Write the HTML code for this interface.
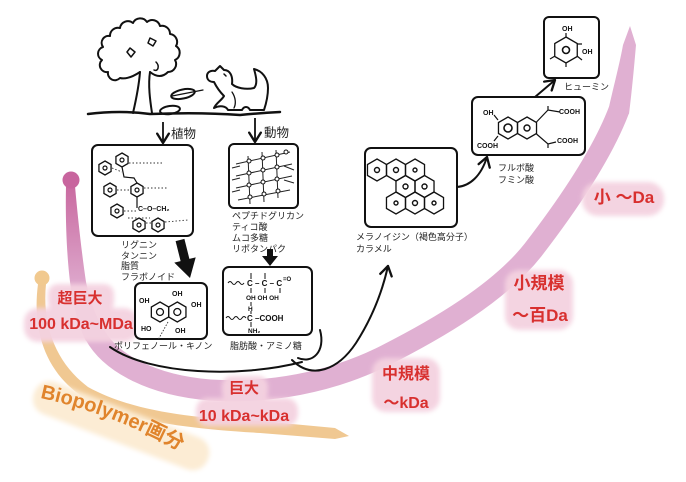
<!DOCTYPE html>
<html>
<head>
<meta charset="utf-8">
<style>
html,body{margin:0;padding:0;background:#fff;}
svg{display:block;}
.jp{font-family:"Liberation Sans","Noto Sans CJK JP",sans-serif;fill:#222;}
.red{font-family:"Liberation Sans","Noto Sans CJK JP",sans-serif;fill:#d8302f;font-weight:bold;}
.chem{font-family:"Liberation Sans",sans-serif;fill:#111;font-weight:bold;}
</style>
</head>
<body>
<svg width="686" height="482" viewBox="0 0 686 482" xmlns="http://www.w3.org/2000/svg">
<defs>
  <filter id="bl" x="-30%" y="-40%" width="160%" height="180%"><feGaussianBlur stdDeviation="2.5"/></filter>
  <marker id="ah" markerUnits="userSpaceOnUse" markerWidth="14" markerHeight="14" viewBox="0 0 12 12" refX="10" refY="6" orient="auto">
    <path d="M2,1 L10,6 L2,11" fill="none" stroke="#111" stroke-width="2" stroke-linecap="round" stroke-linejoin="round"/>
  </marker>
  <polygon id="hx" points="0,-10 8.66,-5 8.66,5 0,10 -8.66,5 -8.66,-5" fill="none" stroke="#111" stroke-width="1.3" vector-effect="non-scaling-stroke"/>
  <linearGradient id="stemg" gradientUnits="userSpaceOnUse" x1="0" y1="185" x2="0" y2="300">
    <stop offset="0" stop-color="#c96aa0"/>
    <stop offset="1" stop-color="#e0b0d2"/>
  </linearGradient>
</defs>

<!-- ORANGE BAND -->
<path d="M38,284 C32,330 45,370 80,395 C120,420 180,428 260,433 L335,439 L349,436 L335,428 L260,421 C185,418 130,410 88,387 C55,362 42,325 46,284 Z" fill="#f0c892"/>
<circle cx="42" cy="278" r="7.5" fill="#f1c98f"/>

<!-- PINK BAND -->
<path d="M66,186 C65,230 68,280 74,305 C78,322 82,334 86,341 L104,330 C96,318 90,300 86,282 C82,255 78,220 75,186 Z" fill="url(#stemg)"/>
<path d="M95,335 C110,362 150,385 210,390 C270,394 330,382 380,358 C440,328 500,292 533,250 C560,215 600,160 619,110" fill="none" stroke="#e0b0d2" stroke-width="21"/>
<path d="M609,107 C614,85 620,62 623,45 L630,26 L636,45 C634,68 632,90 629,114 Z" fill="#e0b0d2"/>
<circle cx="71" cy="180" r="8.5" fill="#c8659e"/>

<!-- Biopolymer label -->
<rect x="-8" y="-22" width="186" height="34" rx="16" transform="translate(40,400) rotate(21)" fill="#fcecd4" filter="url(#bl)"/>
<path id="bp" d="M40,398 Q120,415 200,462" fill="none"/>
<text font-family="Liberation Sans, Noto Sans CJK JP, sans-serif" font-weight="bold" font-size="20" fill="#e0842c"><textPath href="#bp">Biopolymer画分</textPath></text>

<!-- BLOBS -->
<g fill="#f4d2e0" opacity="0.95" filter="url(#bl)">
  <rect x="48" y="284" width="66" height="28" rx="10"/>
  <rect x="24" y="308" width="114" height="34" rx="14"/>
  <rect x="222" y="376" width="46" height="26" rx="10"/>
  <rect x="196" y="398" width="102" height="28" rx="12"/>
  <rect x="372" y="358" width="68" height="54" rx="14"/>
  <rect x="505" y="270" width="68" height="60" rx="14"/>
  <rect x="582" y="182" width="82" height="34" rx="16"/>
</g>

<!-- RED LABELS -->
<g class="red" text-anchor="middle" font-size="16">
  <text x="80" y="303" font-size="15">超巨大</text>
  <text x="81" y="329">100 kDa~MDa</text>
  <text x="244" y="393" font-size="15">巨大</text>
  <text x="244" y="421">10 kDa~kDa</text>
  <text x="406" y="379">中規模</text>
  <text x="406" y="408">〜kDa</text>
  <text x="539" y="289" font-size="17">小規模</text>
  <text x="540" y="321" font-size="17">〜百Da</text>
  <text x="624" y="203" font-size="17">小 〜Da</text>
</g>

<!-- TREE -->
<g fill="none" stroke="#111" stroke-width="2" stroke-linecap="round" stroke-linejoin="round">
  <path d="M140,72 Q128,80 120,78 A7,7 0 0 1 108,72 A7,7 0 0 1 102,60 A7,7 0 0 1 103,47 A7,7 0 0 1 110,36 A8,8 0 0 1 120,28 A8,8 0 0 1 133,23 A8,8 0 0 1 147,22 A8,8 0 0 1 160,26 A8,8 0 0 1 170,34 A8,8 0 0 1 176,46 A8,8 0 0 1 175,60 A8,8 0 0 1 168,72 Q160,80 150,72" fill="#fff"/>
  <path d="M133,113 C136,100 139,85 140,72"/>
  <path d="M152,113 C150,100 148,85 150,72"/>
  <path d="M156,62 C160,66 158,72 154,70" stroke-width="1.5"/>
  <path d="M130,48 L135,52 L131,57 L127,52 Z" stroke-width="1.5"/>
  <path d="M150,38 L156,41 L153,46 L148,43 Z" stroke-width="1.5"/>
  <!-- leaves -->
  <ellipse cx="183" cy="94" rx="12" ry="4.5" transform="rotate(-12 183 94)" fill="#fff"/>
  <path d="M172,96 L203,90" stroke-width="1.2"/>
  <ellipse cx="170" cy="110" rx="10" ry="4" transform="rotate(-8 170 110)" fill="#fff"/>
  <!-- dog -->
  <path d="M207,76 C207,72 211,70 215,71 L220,66 L224,70 C230,70 233,76 232,84 C236,88 246,90 254,88 C258,84 256,76 254,69 C262,71 268,78 268,88 C268,96 266,104 264,110 L250,110 C248,106 244,106 242,110 L228,110 C226,106 220,105 214,108 C216,103 222,100 224,96 C220,92 216,86 214,82 C210,82 207,80 207,76 Z" fill="#fff"/>
  <path d="M224,74 L226,76" stroke-width="1.5"/>
  <path d="M232,92 C236,98 236,104 234,108" stroke-width="1.3"/>
  <!-- ground -->
  <path d="M88,114 Q120,110 150,114 Q200,112 240,115 Q260,113 280,112" stroke-width="2.5"/>
</g>

<!-- down arrows from ground -->
<g fill="none" stroke="#111" stroke-width="1.8">
  <path d="M163,122 L163,143" marker-end="url(#ah)"/>
  <path d="M255,118 L255,142" marker-end="url(#ah)"/>
</g>
<text class="jp" x="171" y="138" font-size="12.5">植物</text>
<text class="jp" x="264" y="137" font-size="12.5">動物</text>

<!-- BOXES -->
<g fill="#fff" stroke="#111" stroke-width="2">
  <rect x="92" y="145" width="101" height="91" rx="6"/>
  <rect x="229" y="144" width="69" height="64" rx="5"/>
  <rect x="135" y="283" width="72" height="56" rx="6"/>
  <rect x="223" y="267" width="89" height="68" rx="6"/>
  <rect x="365" y="148" width="92" height="79" rx="6"/>
  <rect x="472" y="97" width="113" height="58" rx="6"/>
  <rect x="544" y="17" width="55" height="61" rx="5"/>
</g>

<!-- Lignin content -->
<g>
  <use href="#hx" transform="translate(122,160) scale(0.7)"/>
  <use href="#hx" transform="translate(105,168) scale(0.7)"/>
  <use href="#hx" transform="translate(110,190) scale(0.7)"/>
  <use href="#hx" transform="translate(137,190) scale(0.7)"/>
  <use href="#hx" transform="translate(117,211) scale(0.7)"/>
  <use href="#hx" transform="translate(139,225) scale(0.7)"/>
  <use href="#hx" transform="translate(158,225) scale(0.7)"/>
  <g fill="none" stroke="#111" stroke-width="1.2">
    <circle cx="122" cy="160" r="2"/><circle cx="105" cy="168" r="2"/><circle cx="110" cy="190" r="2"/>
    <circle cx="137" cy="190" r="2"/><circle cx="117" cy="211" r="2"/><circle cx="139" cy="225" r="2"/><circle cx="158" cy="225" r="2"/>
    <path d="M122,167 L124,177 L134,178 L137,183"/>
    <path d="M137,197 L137,208"/>
  </g>
  <g fill="none" stroke="#333" stroke-width="0.9" stroke-dasharray="1.5,2">
    <path d="M129,163 L162,163"/><path d="M112,168 L122,172"/>
    <path d="M117,190 L130,190"/><path d="M144,188 L168,188"/>
    <path d="M124,211 L136,211"/><path d="M146,223 L152,223"/>
    <path d="M165,222 L188,220"/><path d="M128,218 L150,218"/>
  </g>
  <text class="chem" x="138" y="211" font-size="7">C–O–CH₂</text>
</g>

<!-- Animal (peptidoglycan) content -->
<g fill="none" stroke="#222" stroke-width="1">
  <path d="M236,164 L290,152"/><path d="M236,176 L292,164"/><path d="M236,188 L292,176"/><path d="M238,200 L290,190"/>
  <path d="M248,156 L250,204"/><path d="M262,152 L264,202"/><path d="M276,150 L278,198"/>
  <path d="M232,168 L240,166"/><path d="M232,180 L240,178"/><path d="M232,192 L240,190"/>
  <path d="M284,166 L294,170"/><path d="M284,180 L294,183"/>
  <g fill="#fff" stroke="#111">
    <circle cx="249" cy="161" r="2"/><circle cx="263" cy="158" r="2"/><circle cx="277" cy="155" r="2"/>
    <circle cx="249" cy="173" r="2"/><circle cx="263" cy="170" r="2"/><circle cx="277" cy="167" r="2"/>
    <circle cx="249" cy="185" r="2"/><circle cx="263" cy="182" r="2"/><circle cx="277" cy="179" r="2"/>
    <circle cx="250" cy="197" r="2"/><circle cx="264" cy="194" r="2"/><circle cx="278" cy="191" r="2"/>
    <circle cx="286" cy="152" r="2"/>
  </g>
</g>

<!-- Lignin labels -->
<g class="jp" font-size="9">
  <text x="121" y="248">リグニン</text>
  <text x="121" y="259">タンニン</text>
  <text x="121" y="269">脂質</text>
  <text x="121" y="280">フラボノイド</text>
  <text x="232" y="219">ペプチドグリカン</text>
  <text x="232" y="230">ティコ酸</text>
  <text x="232" y="241">ムコ多糖</text>
  <text x="232" y="252">リポタンパク</text>
</g>

<!-- Fat arrows -->
<polygon points="175.6,241.1 184.4,238.9 189.4,258.9 195.7,257.4 190,278 174.3,262.6 180.6,261.1" fill="#111"/>
<polygon points="267,249 273,249 273,256 278,256 270,266 262,256 267,256" fill="#111"/>

<!-- Polyphenol content -->
<g>
  <use href="#hx" transform="translate(160,312)"/>
  <use href="#hx" transform="translate(177.3,312)"/>
  <circle cx="160" cy="312" r="3.5" fill="none" stroke="#111" stroke-width="1.3"/>
  <circle cx="177.3" cy="312" r="3.5" fill="none" stroke="#111" stroke-width="1.3"/>
  <path d="M168,322 L158,340" stroke="#333" stroke-width="0.9" stroke-dasharray="1.5,1.5"/>
  <g class="chem" font-size="7">
    <text x="139" y="303">OH</text>
    <text x="172" y="296">OH</text>
    <text x="191" y="307">OH</text>
    <text x="141" y="331">HO</text>
    <text x="175" y="333">OH</text>
  </g>
</g>

<!-- Fatty acid content -->
<g fill="none" stroke="#111" stroke-width="1">
  <path d="M228,283 q2,-3 4,0 t4,0 t4,0 t4,0"/>
  <path d="M226,318 q2,-3 4,0 t4,0 t4,0 t4,0 t4,0"/>
  <path d="M251,273 L251,279 M265,273 L265,279 M251,288 L251,293 M265,288 L265,293 M280,288 L280,293 M251,302 L251,306 M251,311 L251,314 M251,322 L251,327"/>
</g>
<g class="chem" font-size="8">
  <text x="247" y="286">C – C – C</text>
  <text x="283" y="281" font-size="6">=O</text>
  <text x="246" y="300" font-size="6.5">OH  OH   OH</text>
  <text x="248" y="311" font-size="6.5">H</text>
  <text x="247" y="321">C –COOH</text>
  <text x="248" y="333" font-size="6.5">NH₂</text>
</g>

<!-- Polyphenol/fatty labels -->
<g class="jp" font-size="9">
  <text x="114" y="349">ポリフェノール・キノン</text>
  <text x="230" y="349">脂肪酸・アミノ糖</text>
</g>

<!-- Melanoidin content -->
<g>
  <use href="#hx" transform="translate(377,170) scale(1.1)"/>
  <use href="#hx" transform="translate(396,170) scale(1.1)"/>
  <use href="#hx" transform="translate(415,170) scale(1.1)"/>
  <use href="#hx" transform="translate(405.5,186.5) scale(1.1)"/>
  <use href="#hx" transform="translate(424.5,186.5) scale(1.1)"/>
  <use href="#hx" transform="translate(396,203) scale(1.1)"/>
  <use href="#hx" transform="translate(415,203) scale(1.1)"/>
  <use href="#hx" transform="translate(434,203) scale(1.1)"/>
  <g fill="none" stroke="#111" stroke-width="1.4">
    <circle cx="377" cy="170" r="2.5"/><circle cx="396" cy="170" r="2.5"/><circle cx="415" cy="170" r="2"/>
    <circle cx="405.5" cy="186.5" r="2.5"/><circle cx="424.5" cy="186.5" r="2.5"/>
    <circle cx="396" cy="203" r="2"/><circle cx="415" cy="203" r="2.5"/><circle cx="434" cy="203" r="2"/>
  </g>
</g>
<g class="jp" font-size="9">
  <text x="356" y="240">メラノイジン（褐色高分子）</text>
  <text x="356" y="252">カラメル</text>
</g>

<!-- Fulvic content -->
<g>
  <use href="#hx" transform="translate(508,128) scale(1.1)"/>
  <use href="#hx" transform="translate(527,128) scale(1.1)"/>
  <circle cx="508" cy="128" r="4" fill="none" stroke="#111" stroke-width="1.6"/>
  <circle cx="527" cy="128" r="3" fill="none" stroke="#111" stroke-width="1.4"/>
  <path d="M536.5,122 L548,110 L560,112 M536.5,134 L548,144 L556,142 M548,144 L548,148 M548,110 L548,106 M498,120 L494,115 M498,136 L494,141" fill="none" stroke="#111" stroke-width="1.2"/>
  <g class="chem" font-size="7">
    <text x="483" y="115">OH</text>
    <text x="477" y="148">COOH</text>
    <text x="559" y="114">COOH</text>
    <text x="557" y="143">COOH</text>
  </g>
</g>
<g class="jp" font-size="9">
  <text x="498" y="171">フルボ酸</text>
  <text x="498" y="183">フミン酸</text>
</g>

<!-- Humin content -->
<g>
  <use href="#hx" transform="translate(566,50) scale(1.3)"/>
  <circle cx="566" cy="50" r="3.5" fill="none" stroke="#111" stroke-width="1.6"/>
  <path d="M566,37 L566,33 M577,44 L582,44 M577,56 L582,60 M566,63 L566,67 M555,56 L550,59" fill="none" stroke="#111" stroke-width="1.2"/>
  <g class="chem" font-size="7">
    <text x="562" y="31">OH</text>
    <text x="582" y="54">OH</text>
  </g>
</g>
<text class="jp" x="564" y="90" font-size="9">ヒューミン</text>

<!-- CONNECTORS -->
<g fill="none" stroke="#111" stroke-width="2" stroke-linecap="round">
  <path d="M110,347 C150,375 240,378 302,362"/>
  <path d="M320,330 C326,352 312,364 298,358"/>
  <path d="M292,360 C312,380 338,370 356,343 C372,318 382,293 388,266" marker-end="url(#ah)"/>
  <path d="M457,187 C470,186 481,176 487,157" marker-end="url(#ah)"/>
  <path d="M535,97 L555,80" marker-end="url(#ah)"/>
</g>
</svg>
</body>
</html>
